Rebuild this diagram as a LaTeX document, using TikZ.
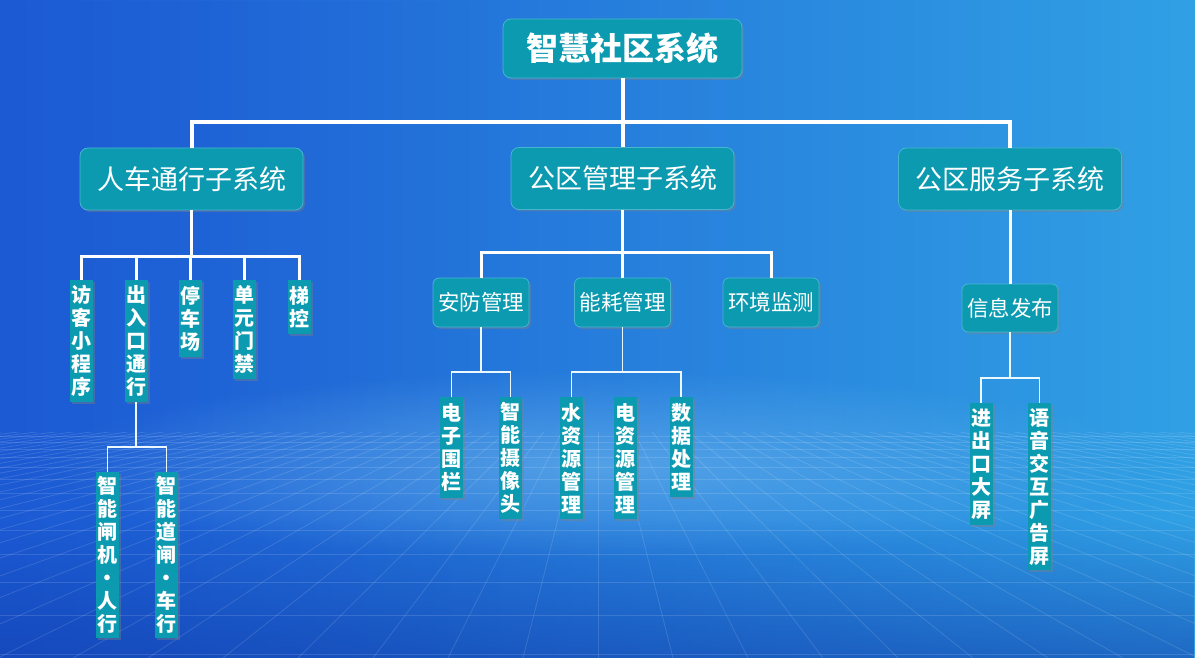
\documentclass[tikz,border=0pt]{standalone}
\usepackage{fontspec}
\setmainfont{Noto Sans CJK SC}
\usetikzlibrary{shadows,fadings}
\definecolor{boxc}{RGB}{12,154,176}
\definecolor{boxedge}{RGB}{70,182,208}
\definecolor{bgl}{RGB}{28,90,212}
\definecolor{bgr}{RGB}{48,160,228}
\definecolor{bgdark}{RGB}{16,60,170}
\definecolor{glowc}{RGB}{120,190,240}
\tikzfading[name=glowfade, inner color=transparent!0, outer color=transparent!100]
\begin{document}
\begin{tikzpicture}[x=1pt,y=-1pt,
  boxbase/.style={fill=boxc, text=white, inner sep=0pt,
    drop shadow={shadow xshift=2pt, shadow yshift=-2pt, opacity=0.4}},
  titlebox/.style={boxbase, rounded corners=8pt, draw=boxedge, line width=0.8pt,
    minimum width=239, minimum height=59, font=\fontsize{32}{36}\selectfont\bfseries},
  subbox/.style={boxbase, rounded corners=8pt, draw=boxedge, line width=0.8pt,
    minimum width=223, minimum height=62, font=\fontsize{27}{30}\selectfont},
  modbox/.style={boxbase, rounded corners=6pt, draw=boxedge, line width=0.8pt,
    minimum width=96, minimum height=49, font=\fontsize{21.5}{25}\selectfont},
  vbox/.style={boxbase, anchor=north, minimum width=23, align=center,
    font=\fontsize{20}{23}\selectfont\bfseries},
  thick line/.style={draw=white, line width=4pt},
  mid line/.style={draw=white, line width=3pt},
  thin line/.style={draw=white!92!cyan, line width=1.4pt},
  gridl/.style={draw=white, opacity=0.13, line width=0.8pt}
]
\useasboundingbox (0,0) rectangle (1195,658);
% background
\shade[left color=bgl, right color=bgr] (0,0) rectangle (1195,658);
\fill[bgl, opacity=0.35, path fading=east] (0,0) rectangle (500,658);
\fill[glowc, opacity=0.55, path fading=glowfade] (600,465) ellipse (560 and 95);
\fill[bgdark, opacity=0.55, path fading=north] (0,520) rectangle (1195,658);
\begin{scope}
  \clip (0,432) rectangle (1195,658);
  \foreach \i in {-40,...,40} \draw[gridl] (598,360) -- (598+\i*75,658);
  \foreach \yy in {436,442,449,457,467,479,493,510,530,554,582,615,654}
    \draw[gridl] (0,\yy) -- (1195,\yy);
\end{scope}

% nodes
\node[titlebox] (root) at (622.5,48.5) {智慧社区系统};
\node[subbox] (pa) at (191.5,179) {人车通行子系统};
\node[subbox] (pb) at (622.5,178.5) {公区管理子系统};
\node[subbox] (pc) at (1010,179) {公区服务子系统};

\coordinate (bus0) at (0,122);
\coordinate (busa) at (0,256);
\coordinate (busb) at (0,252);

% 人车通行
\node[vbox, minimum height=122] (a1) at (81.5,280) {访\\客\\小\\程\\序};
\node[vbox, minimum height=122] (a2) at (136,280) {出\\入\\口\\通\\行};
\node[vbox, minimum height=77] (a3) at (190.5,280) {停\\车\\场};
\node[vbox, minimum height=99] (a4) at (244.5,280) {单\\元\\门\\禁};
\node[vbox, minimum height=54] (a5) at (299.5,280) {梯\\控};
\node[vbox, minimum height=166] (a21) at (107.5,472) {智\\能\\闸\\机\\·\\人\\行};
\node[vbox, minimum height=166] (a22) at (166.5,472) {智\\能\\道\\闸\\·\\车\\行};
\coordinate (busa2) at (0,447);

% 公区管理
\node[modbox] (b1) at (481,302.5) {安防管理};
\node[modbox] (b2) at (622.5,302.5) {能耗管理};
\node[modbox] (b3) at (771,302.5) {环境监测};
\node[vbox, minimum height=101] (b11) at (451.5,397) {电\\子\\围\\栏};
\node[vbox, minimum height=122] (b12) at (510.5,397) {智\\能\\摄\\像\\头};
\node[vbox, minimum height=122] (b21) at (571.5,397) {水\\资\\源\\管\\理};
\node[vbox, minimum height=122] (b22) at (625.5,397) {电\\资\\源\\管\\理};
\node[vbox, minimum height=100] (b23) at (681,397) {数\\据\\处\\理};
\coordinate (busb2) at (0,372);

% 公区服务
\node[modbox, minimum height=48] (c1) at (1010,308) {信息发布};
\node[vbox, minimum height=122] (c11) at (981,403) {进\\出\\口\\大\\屏};
\node[vbox, minimum height=167] (c12) at (1039.5,403) {语\\音\\交\\互\\广\\告\\屏};
\coordinate (busc2) at (0,378);

% connectors level 1
\draw[thick line] (root.south) -- (pb.north);
\draw[thick line] (pa.north) -- (pa.north |- bus0) -- (pc.north |- bus0) -- (pc.north);

% level 2 -> 3
\draw[mid line] (pa.south) -- (pa.south |- busa);
\draw[mid line] (a1.north) -- (a1.north |- busa) -- (a5.north |- busa) -- (a5.north);
\foreach \n in {a2,a3,a4} \draw[mid line] (\n.north) -- (\n.north |- busa);

\draw[mid line] (pb.south) -- (b2.north);
\draw[mid line] (b1.north) -- (b1.north |- busb) -- (b3.north |- busb) -- (b3.north);

\draw[mid line] (pc.south) -- (c1.north);

% level 3 -> 4
\draw[thin line] (a2.south) -- (a2.south |- busa2);
\draw[thin line] (a21.north) -- (a21.north |- busa2) -- (a22.north |- busa2) -- (a22.north);

\draw[thin line] (b1.south) -- (b1.south |- busb2);
\draw[thin line] (b11.north) -- (b11.north |- busb2) -- (b12.north |- busb2) -- (b12.north);

\draw[thin line] (b2.south) -- (b2.south |- busb2);
\draw[thin line] (b21.north) -- (b21.north |- busb2) -- (b23.north |- busb2) -- (b23.north);

\draw[thin line] (c1.south) -- (c1.south |- busc2);
\draw[thin line] (c11.north) -- (c11.north |- busc2) -- (c12.north |- busc2) -- (c12.north);
\end{tikzpicture}
\end{document}
